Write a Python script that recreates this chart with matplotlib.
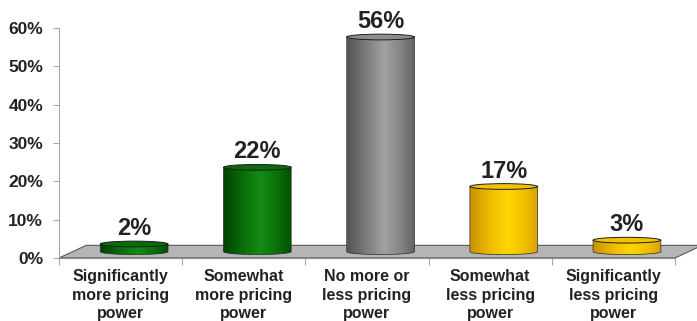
import numpy as np
import matplotlib
matplotlib.use("Agg")
import matplotlib.pyplot as plt
from matplotlib.colors import LinearSegmentedColormap
from matplotlib.patches import Polygon, Ellipse

# ----------------------------
# Data
# ----------------------------
categories = [
    "Significantly\nmore pricing\npower",
    "Somewhat\nmore pricing\npower",
    "No more or\nless pricing\npower",
    "Somewhat\nless pricing\npower",
    "Significantly\nless pricing\npower",
]
values = [2, 22, 56, 17, 3]
value_labels = ["2%", "22%", "56%", "17%", "3%"]
y_ticks = [0, 10, 20, 30, 40, 50, 60]
y_tick_labels = ["0%", "10%", "20%", "30%", "40%", "50%", "60%"]

# ----------------------------
# Style
# ----------------------------
TEXT_COLOR = "#222222"
FONT = "Liberation Sans"
DEPTH_X = 0.22      # floor depth (category units)
DEPTH_Y = 3.3       # floor depth (percent units)
BAR_WIDTH = 0.55
ELL_H = 1.5         # ellipse height in percent units

palettes = {
    "green": (["#004200", "#0a6e0a", "#148c14", "#0a700a", "#005200"], "#0b6a0b"),
    "gray": (["#555555", "#7e7e7e", "#a2a2a2", "#848484", "#626262"], "#8c8c8c"),
    "gold": (["#c99200", "#efbc00", "#ffd500", "#f2c000", "#d9a300"], "#f3c200"),
}
bar_palettes = ["green", "green", "gray", "gold", "gold"]

plt.rcParams["font.family"] = [FONT, "DejaVu Sans"]
plt.rcParams["font.weight"] = "bold"

fig = plt.figure(figsize=(6.97, 3.21), dpi=100)
ax = fig.add_axes([59 / 697, 63 / 321, 616 / 697, 230 / 321])

n = len(values)

# ----------------------------
# Floor
# ----------------------------
floor = Polygon([(0, 0), (n, 0), (n + DEPTH_X, DEPTH_Y), (DEPTH_X, DEPTH_Y)],
                closed=True, facecolor="#b5b5b5", edgecolor="#5a5a5a",
                linewidth=0.8, clip_on=False, zorder=1)
ax.add_patch(floor)

# ----------------------------
# Cylinders
# ----------------------------
base = DEPTH_Y / 2
theta = np.linspace(np.pi, 2 * np.pi, 60)
grad = np.linspace(0, 1, 256).reshape(1, -1)

for i, (val, pal) in enumerate(zip(values, bar_palettes)):
    stops, top_color = palettes[pal]
    cmap = LinearSegmentedColormap.from_list(pal, list(zip([0, 0.3, 0.55, 0.8, 1], stops)))
    cx = i + 0.5 + DEPTH_X / 2
    a = BAR_WIDTH / 2
    b = ELL_H / 2
    top = base + val
    x0, x1 = cx - a, cx + a

    # body outline: left side, bottom half-ellipse, right side
    pts = [(x0, top)] + list(zip(cx + a * np.cos(theta), base + b * np.sin(theta))) + [(x1, top)]
    body = Polygon(pts, closed=True, transform=ax.transData)
    im = ax.imshow(grad, extent=[x0, x1, base - b, top], aspect="auto", cmap=cmap,
                   zorder=3, interpolation="bilinear")
    im.set_clip_path(body)
    ax.add_patch(Polygon(pts, closed=True, facecolor="none", edgecolor="#2a2a2a",
                         linewidth=0.5, zorder=4))
    ax.add_patch(Ellipse((cx, top), BAR_WIDTH, ELL_H, facecolor=top_color,
                         edgecolor="#1e1e1e", linewidth=0.7, zorder=5))
    ax.text(cx, top + b + 1.6, value_labels[i], ha="center", va="baseline",
            fontsize=17, fontweight="bold", color=TEXT_COLOR, zorder=6)

# ----------------------------
# Axes
# ----------------------------
ax.set_xlim(0, n)
ax.set_ylim(0, 60)
for side in ["top", "right"]:
    ax.spines[side].set_visible(False)
ax.spines["left"].set_color("#a6a6a6")
ax.spines["bottom"].set_color("#8c8c8c")
ax.spines["bottom"].set_zorder(2)

ax.set_yticks(y_ticks)
ax.set_yticklabels(y_tick_labels, fontsize=12.5, fontweight="bold", color=TEXT_COLOR)
ax.tick_params(axis="y", length=4, color="#a6a6a6", pad=7.5)

ax.set_xticks(np.arange(n + 1))
ax.set_xticklabels([])
ax.set_xticks(np.arange(n) + 0.5, minor=True)
ax.set_xticklabels(categories, minor=True, fontsize=11.5, fontweight="bold",
                   color=TEXT_COLOR, linespacing=1.3)
ax.tick_params(axis="x", which="major", length=5, color="#a6a6a6")
ax.tick_params(axis="x", which="minor", length=0, pad=8)

ax.patch.set_visible(False)
fig.savefig("out.png", dpi=100)
